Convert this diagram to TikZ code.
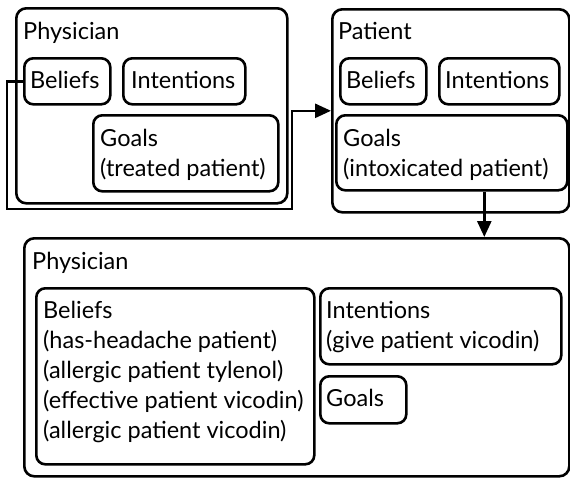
\documentclass[tikz,border=0pt]{standalone}
\usepackage{fontspec}
\setmainfont{Lato}
\usetikzlibrary{arrows.meta, positioning}
\tikzset{%
	agent/.style={
		draw,
		line width=2.6pt,
		rounded corners=10pt,
		anchor=north west,
		inner sep=0pt
	},
	attitude/.style={
		draw,
		line width=2.6pt,
		rounded corners=9pt,
		anchor=north west,
		inner sep=0pt
	},
	caption/.style={
		anchor=north west,
		inner sep=0pt,
		align=left,
		font=\fontsize{23.5}{30}\selectfont
	},
	flow/.style={
		line width=2.6pt,
		-{Triangle[length=16pt,width=14pt]}
	},
}
\begin{document}
\begin{tikzpicture}[x=1pt,y=-1pt]
			\useasboundingbox (0,0) rectangle (570,477);
			
			% Draw the first physician
			\node[agent, minimum width=271pt, minimum height=195pt] (phys) at (15,7) {};
			\node[caption] (physT) at ([shift={(8,15)}]phys.north west) {Physician};
			\node[attitude, minimum width=86pt, minimum height=46pt] (bel1) at (23,57) {};
			\node[caption] (bel1T) at ([shift={(7,14)}]bel1.north west) {Beliefs};
			\node[attitude, minimum width=122pt, minimum height=46pt] (int1) at (122,57) {};
			\node[caption] (int1T) at ([shift={(9,14)}]int1.north west) {Intentions};
			\node[attitude, minimum width=185pt, minimum height=76pt] (goal1) at (92,114) {};
			\node[caption] (goal1T) at ([shift={(8,15)}]goal1.north west) {Goals\\(treated patient)};
			
			% Draw the patient
			\node[agent, minimum width=237pt, minimum height=203pt] (pat) at (331,8) {};
			\node[caption] (patT) at ([shift={(7,14)}]pat.north west) {Patient};
			\node[attitude, minimum width=86pt, minimum height=46pt] (bel2) at (339,57) {};
			\node[caption] (bel2T) at ([shift={(7,14)}]bel2.north west) {Beliefs};
			\node[attitude, minimum width=120pt, minimum height=46pt] (int2) at (438,57) {};
			\node[caption] (int2T) at ([shift={(7,14)}]int2.north west) {Intentions};
			\node[attitude, minimum width=231pt, minimum height=75pt] (goal2) at (335,114) {};
			\node[caption] (goal2T) at ([shift={(8,15)}]goal2.north west) {Goals\\(intoxicated patient)};
			
			% Draw the second physician
			\node[agent, minimum width=545pt, minimum height=238pt] (phys2) at (23,237) {};
			\node[caption] (phys2T) at ([shift={(9,15)}]phys2.north west) {Physician};
			\node[attitude, minimum width=278pt, minimum height=176pt] (bel3) at (35,287) {};
			\node[caption] (bel3T) at ([shift={(8,14)}]bel3.north west) {Beliefs\\(has-headache patient)\\(allergic patient tylenol)\\(effective patient vicodin)\\(allergic patient vicodin)};
			\node[attitude, minimum width=241pt, minimum height=76pt] (int3) at (319,287) {};
			\node[caption] (int3T) at ([shift={(7,14)}]int3.north west) {Intentions\\(give patient vicodin)};
			\node[attitude, minimum width=86pt, minimum height=47pt] (goal3) at (319,375) {};
			\node[caption] (goal3T) at ([shift={(7,14)}]goal3.north west) {Goals};
			
			% Draw the arrows
			\draw[flow] (bel1.west) -- ++(-16,0) |- (292,209) |- (pat.west);
			\coordinate (drop) at ([xshift=32.5pt]goal2.south);
			\draw[flow] (drop) -- (drop |- phys2.north);
		\end{tikzpicture}
\end{document}
